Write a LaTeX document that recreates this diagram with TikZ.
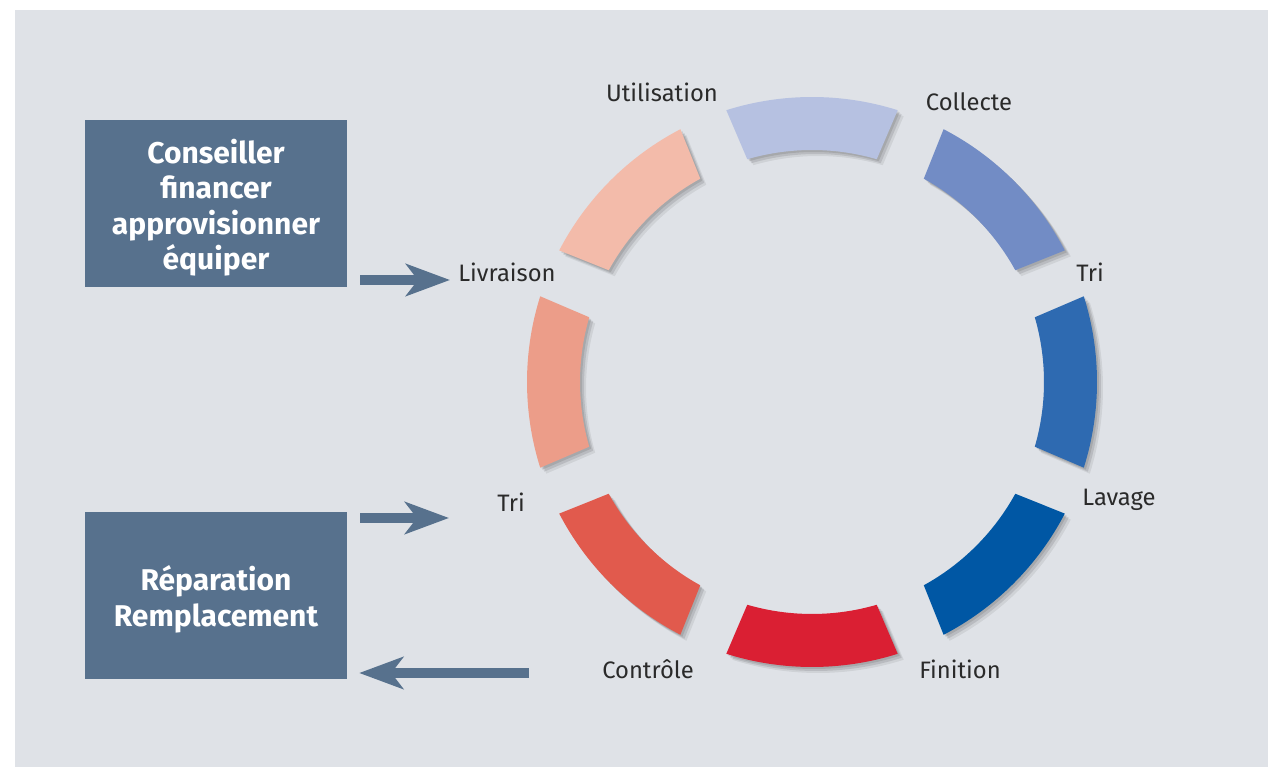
\documentclass[tikz,border=0pt]{standalone}
\usepackage{fontspec}
\setmainfont{Fira Sans}
\usepackage{tikz}
\usetikzlibrary{arrows.meta,shadows}

\definecolor{bgcol}{HTML}{DFE2E7}
\definecolor{boxcol}{HTML}{57718D}
\definecolor{txtcol}{HTML}{2A2A2A}
\definecolor{cUtil}{HTML}{B6C1E1}
\definecolor{cColl}{HTML}{728CC5}
\definecolor{cTri}{HTML}{2E6AB1}
\definecolor{cLav}{HTML}{0057A4}
\definecolor{cFin}{HTML}{DA1F33}
\definecolor{cCon}{HTML}{E15A4D}
\definecolor{cTriB}{HTML}{EC9D89}
\definecolor{cLiv}{HTML}{F3BBAA}

\begin{document}
\begin{tikzpicture}[x=1pt,y=1pt]
						\tikzstyle{box}=[rectangle,fill=boxcol,minimum width=262pt,minimum height=167pt]
						\tikzstyle{boxtext}=[text=white,align=center,inner sep=0pt,font=\fontsize{30}{35.5}\selectfont\bfseries]
						\tikzstyle{label}=[anchor=base,text=txtcol,inner sep=0pt,font=\fontsize{23.8}{27}\selectfont]
						\tikzstyle{segment}=[drop shadow={shadow xshift=2pt,shadow yshift=-2pt,opacity=0.1,fill=black},
						  drop shadow={shadow xshift=4pt,shadow yshift=-4pt,opacity=0.1,fill=black},
						  drop shadow={shadow xshift=6pt,shadow yshift=-6pt,opacity=0.07,fill=black}]
						\tikzstyle{flow}=[draw=boxcol,line width=10pt,-{Stealth[length=44pt,width=32pt,inset=12pt]}]
						\useasboundingbox (0,0) rectangle (1268,767);
						\fill[bgcol] (15,0) rectangle (1268,757);
						% ring
						\coordinate (c) at (812,385);
						\begin{scope}[shift={(c)}]
						\foreach \a/\col in {90/cUtil,45/cColl,0/cTri,-45/cLav,-90/cFin,-135/cCon,180/cTriB,135/cLiv}
						\fill[segment,\col] ({\a-17.5}:285) arc[start angle={\a-17.5},end angle={\a+17.5},radius=285] -- ({\a+16.2}:232) arc[start angle={\a+16.2},end angle={\a-16.2},radius=232] -- cycle;
						\end{scope}
						\node[label] (util) at (662,665) {Utilisation};
						\node[label] (coll) at (969,656) {Collecte};
						\node[label] (tri) at (1090,485) {Tri};
						\node[label] (lav) at (1119,261) {Lavage};
						\node[label] (fin) at (960,88) {Finition};
						\node[label] (ctrl) at (648,88) {Contrôle};
						\node[label] (trib) at (511,255) {Tri};
						\node[label] (liv) at (507,485) {Livraison};
						% boxes
						\node[box] (cons) at (216,563.5) {};
						\node[boxtext] (constxt) at ([yshift=-4]cons.center) {Conseiller\\financer\\approvisionner\\équiper};
						\node[box] (rep) at (216,171.5) {};
						\node[boxtext] (reptxt) at ([yshift=-4]rep.center) {Réparation\\Remplacement};
						% arrows
						\coordinate (in1) at (450,487);
						\coordinate (in2) at (449,249);
						\coordinate (out) at (529,94);
						\draw[flow,shorten <=13pt] (cons.east |- in1) -- (in1);
						\draw[flow,shorten <=13pt] (rep.east |- in2) -- (in2);
						\draw[flow,shorten >=12pt] (out) -- (rep.east |- out);
						\end{tikzpicture}
\end{document}
